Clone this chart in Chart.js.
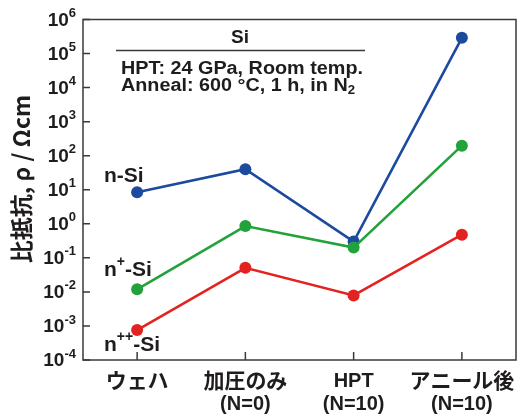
<!DOCTYPE html>
<html>
<head>
<meta charset="utf-8">
<script src="https://cdn.jsdelivr.net/npm/chart.js@4.4.1/dist/chart.umd.min.js"></script>
<style>
  html, body { margin: 0; padding: 0; background: #fff; }
  #wrap { width: 522px; height: 416px; }
</style>
</head>
<body>
<div id="wrap"><canvas id="c" width="522" height="416"></canvas></div>
<script>
// Resistivity of Si samples through processing steps
const categories = [['ウェハ'], ['加圧のみ', '(N=0)'], ['HPT', '(N=10)'], ['アニール後', '(N=10)']];
const nSi   = [8.4, 40, 0.30, 2.9e5];
const npSi  = [0.0119, 0.86, 0.20, 197];
const nppSi = [7.6e-4, 0.051, 0.0079, 0.48];
const yTickExponents = [6, 5, 4, 3, 2, 1, 0, -1, -2, -3, -4];

const TXT = '#1f1c1d';
const LAT = 'bold {s}px "Liberation Sans", Arial, sans-serif';
const CJK = 'bold {s}px "Noto Sans CJK JP", "Liberation Sans", sans-serif';
const f = (tpl, s) => tpl.replace('{s}', s);

// Draw a run of [text, size, dy, font] pieces starting at x
function drawRuns(ctx, x, y, runs, align) {
  let total = 0;
  runs.forEach(r => { ctx.font = f(r[3] || LAT, r[1]); total += ctx.measureText(r[0]).width; });
  let cx = align === 'right' ? x - total : align === 'center' ? x - total / 2 : x;
  ctx.textAlign = 'left';
  runs.forEach(r => {
    ctx.font = f(r[3] || LAT, r[1]);
    ctx.fillText(r[0], cx, y + (r[2] || 0));
    cx += ctx.measureText(r[0]).width;
  });
  return total;
}

// Same as drawRuns but stretched horizontally to a given width
function drawRunsWide(ctx, x, y, runs, width) {
  let total = 0;
  runs.forEach(r => { ctx.font = f(r[3] || LAT, r[1]); total += ctx.measureText(r[0]).width; });
  ctx.save();
  ctx.translate(x, y);
  ctx.scale(width / total, 1);
  drawRuns(ctx, 0, 0, runs, 'left');
  ctx.restore();
}

const decor = {
  id: 'decor',
  afterDraw(chart) {
    const { ctx, chartArea: a, scales } = chart;
    const xs = scales.x, ys = scales.y;
    ctx.save();
    // frame
    ctx.strokeStyle = '#3a3a3a';
    ctx.lineWidth = 1.5;
    ctx.strokeRect(a.left, a.top, a.right - a.left, a.bottom - a.top);
    // inward ticks
    ctx.beginPath();
    yTickExponents.forEach(e => {
      const py = ys.getPixelForValue(Math.pow(10, e));
      ctx.moveTo(a.left, py); ctx.lineTo(a.left + 7, py);
    });
    categories.forEach((c, i) => {
      const px = xs.getPixelForValue(i);
      ctx.moveTo(px, a.bottom); ctx.lineTo(px, a.bottom - 8);
    });
    ctx.stroke();

    ctx.fillStyle = TXT;
    ctx.textBaseline = 'middle';
    // y tick labels 10^n
    yTickExponents.forEach(e => {
      const py = ys.getPixelForValue(Math.pow(10, e));
      drawRuns(ctx, 76, py + 1, [['10', 19, 0], [String(e), 13, -7]], 'right');
    });
    // x category labels
    categories.forEach((c, i) => {
      const px = xs.getPixelForValue(i);
      c.forEach((line, k) => {
        const cjk = /[^\x00-\x7f]/.test(line);
        ctx.font = cjk ? f(CJK, 21) : f(LAT, 20);
        ctx.textAlign = 'center';
        ctx.fillText(line, px, (cjk ? 380 : 381) + k * 23);
      });
    });
    // y title
    ctx.save();
    ctx.translate(21, 179);
    ctx.rotate(-Math.PI / 2);
    ctx.font = f(CJK, 23);
    ctx.textAlign = 'center';
    ctx.fillText('比抵抗, ρ / Ωcm', 0, 0);
    ctx.restore();

    // header text
    ctx.font = f(LAT, 19);
    ctx.textAlign = 'center';
    ctx.fillText('Si', 240, 38);
    ctx.strokeStyle = '#3a3a3a';
    ctx.lineWidth = 1.5;
    ctx.beginPath(); ctx.moveTo(116, 50.5); ctx.lineTo(365, 50.5); ctx.stroke();
    drawRunsWide(ctx, 121, 69, [['HPT: 24 GPa, Room temp.', 18, 0]], 242);
    drawRunsWide(ctx, 121, 86, [['Anneal: 600 °C, 1 h, in N', 18, 0], ['2', 12, 5]], 234);

    // series labels
    drawRuns(ctx, 104, 176, [['n-Si', 21, 0]], 'left');
    drawRuns(ctx, 104, 270, [['n', 21, 0], ['+', 14, -8], ['-Si', 21, 0]], 'left');
    drawRuns(ctx, 104, 345, [['n', 21, 0], ['++', 14, -8], ['-Si', 21, 0]], 'left');
    ctx.restore();
  }
};

function series(data, color) {
  return {
    data, borderColor: color, backgroundColor: color,
    pointBackgroundColor: color, pointBorderColor: color,
    borderWidth: 2.6, pointRadius: 6, pointHoverRadius: 6, pointBorderWidth: 0,
    tension: 0, fill: false
  };
}

new Chart(document.getElementById('c'), {
  type: 'line',
  data: {
    labels: categories.map(c => c.join(' ')),
    datasets: [
      series(nppSi, '#e3231f'),
      series(npSi, '#22a23a'),
      series(nSi, '#1c4a9e')
    ]
  },
  options: {
    responsive: false,
    animation: false,
    layout: { padding: { left: 83, top: 19.5, right: 4, bottom: 56 } },
    plugins: { legend: { display: false }, tooltip: { enabled: false } },
    scales: {
      x: { type: 'category', display: false, offset: true },
      y: { type: 'logarithmic', display: false, min: 1e-4, max: 1e6 }
    }
  },
  plugins: [decor]
});
</script>
</body>
</html>
